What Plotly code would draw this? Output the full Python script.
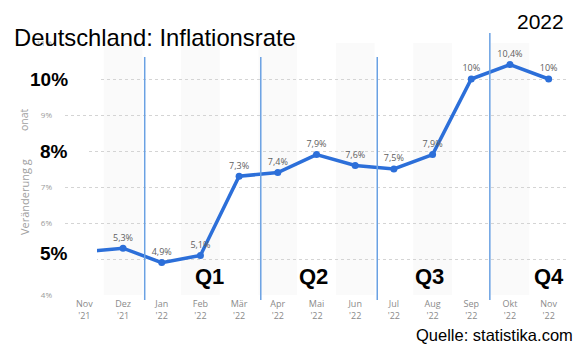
import plotly.graph_objects as go

months = ["Nov", "Dez", "Jan", "Feb", "Mär", "Apr", "Mai", "Jun", "Jul", "Aug", "Sep", "Okt", "Nov"]
years = ["'21", "'21", "'22", "'22", "'22", "'22", "'22", "'22", "'22", "'22", "'22", "'22", "'22"]
rates = [5.2, 5.3, 4.9, 5.1, 7.3, 7.4, 7.9, 7.6, 7.5, 7.9, 10.0, 10.4, 10.0]
show_label = [False] + [True] * 12
y_ticks = [4, 5, 6, 7, 8, 9, 10, 11]
big_ticks = [10, 8, 5]
quarters = ["Q1", "Q2", "Q3", "Q4"]

W, H = 580, 346
L, R, T, B = 65, 12, 43, 51
ymin, ymax = 4, 11

def fmt(v):
    s = ("%g" % v).replace(".", ",")
    return s + "%"

labels = [fmt(v) if s else "" for v, s in zip(rates, show_label)]
xs = list(range(len(months)))
ticktext = [f"{m}<br>{y}" for m, y in zip(months, years)]
y_ticktext = ["" if v in big_ticks else f"{v}%" for v in y_ticks]

def py2paper(py):
    return (H - B - py) / (H - T - B)

def px2paper(px):
    return (px - L) / (W - L - R)

fig = go.Figure()
fig.add_trace(go.Scatter(
    x=xs, y=rates, mode="lines+markers+text",
    line=dict(color="#2c6fd9", width=3.5),
    marker=dict(color="#2c6fd9", size=7),
    text=labels, textposition="top center",
    textfont=dict(family="Open Sans", size=9, color="#606060"),
    cliponaxis=False, hoverinfo="skip",
))

shapes = []
# alternating light bands
for i in range(1, len(months), 2):
    shapes.append(dict(type="rect", xref="x", yref="paper", x0=i - 0.5, x1=i + 0.5,
                       y0=0, y1=1, fillcolor="#fafafa", line_width=0, layer="below"))
# quarter separators
for xq, top in [(1.56, 57), (4.56, 57), (7.57, 57), (10.48, 33)]:
    shapes.append(dict(type="line", xref="x", yref="paper", x0=xq, x1=xq,
                       y0=py2paper(300), y1=py2paper(top),
                       line=dict(color="#6aa1e3", width=1.5), layer="above"))
# white boxes behind big labels
for (x0, x1, y0, y1) in [(26, 98, 64, 94), (26, 88, 138, 166), (26, 97, 238, 268)]:
    shapes.append(dict(type="rect", xref="paper", yref="paper",
                       x0=px2paper(x0), x1=px2paper(x1), y0=py2paper(y1), y1=py2paper(y0),
                       fillcolor="white", line_width=0, layer="above"))

ann = []
ann.append(dict(text="Deutschland: Inflationsrate", x=px2paper(12), y=py2paper(37),
                xref="paper", yref="paper", xanchor="left", yanchor="middle", showarrow=False,
                font=dict(family="Liberation Sans", size=23.8, color="black")))
ann.append(dict(text="2022", x=px2paper(566), y=py2paper(21),
                xref="paper", yref="paper", xanchor="right", yanchor="middle", showarrow=False,
                font=dict(family="Liberation Sans", size=21, color="black")))
ann.append(dict(text="Quelle: statistika.com", x=px2paper(575), y=py2paper(335),
                xref="paper", yref="paper", xanchor="right", yanchor="middle", showarrow=False,
                font=dict(family="Liberation Sans", size=16.5, color="black")))
for v, ypx in zip(big_ticks, [79, 151, 253]):
    ann.append(dict(text=f"<b>{v}%</b>", x=px2paper(70), y=py2paper(ypx), xref="paper", yref="paper",
                    xanchor="right", yanchor="middle", showarrow=False,
                    font=dict(family="Liberation Sans", size=19, color="black")))
for q, xc in zip(quarters, [3.24, 5.93, 8.93, 12.0]):
    ann.append(dict(text=f"<b>{q}</b>", x=xc, y=py2paper(276), xref="x", yref="paper",
                    xanchor="center", yanchor="middle", showarrow=False,
                    font=dict(family="Liberation Sans", size=22, color="black")))
# partially hidden axis title fragments
ann.append(dict(text="Veränderung g", x=px2paper(24), y=py2paper(197), xref="paper", yref="paper",
                textangle=-90, showarrow=False, xanchor="center", yanchor="middle",
                font=dict(family="Open Sans", size=11, color="#a0a0a0")))
ann.append(dict(text="onat", x=px2paper(24), y=py2paper(120), xref="paper", yref="paper",
                textangle=-90, showarrow=False, xanchor="center", yanchor="middle",
                font=dict(family="Open Sans", size=10.5, color="#a0a0a0")))

fig.update_layout(
    width=W, height=H, margin=dict(l=L, r=R, t=T, b=B),
    paper_bgcolor="white", plot_bgcolor="white", showlegend=False,
    shapes=shapes, annotations=ann,
    xaxis=dict(range=[-0.5, 12.5], tickvals=xs, ticktext=ticktext, showgrid=False,
               zeroline=False, showline=False, ticks="", ticklabelstandoff=2,
               tickfont=dict(family="Open Sans", size=9, color="#8a8a8a")),
    yaxis=dict(range=[ymin, ymax], tickvals=y_ticks, ticktext=y_ticktext,
               showgrid=True, gridcolor="#d4d4d4", griddash="dot", gridwidth=1,
               zeroline=False, showline=False, ticks="", ticklabelstandoff=12,
               tickfont=dict(family="Open Sans", size=8, color="#9a9a9a")),
)
fig.write_html("out.html")
